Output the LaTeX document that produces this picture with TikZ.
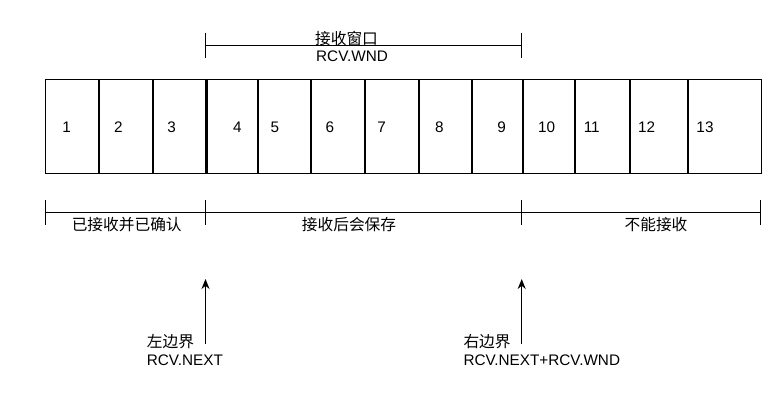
\documentclass[tikz,border=0pt]{standalone}
\usepackage{fontspec}
\setmainfont{Liberation Sans}
\newfontfamily\cjk{Noto Sans CJK SC}
\usetikzlibrary{arrows.meta}
\begin{document}
\begin{tikzpicture}[x=1pt,y=-1pt,
  cell/.style={draw, line width=0.9pt, minimum height=93.5pt, inner sep=0pt, anchor=north west},
  divider/.style={line width=2.2pt},
  num/.style={font=\fontsize{15.3}{17}\selectfont, inner sep=0pt, anchor=base},
  lbl/.style={font=\fontsize{15.3}{17}\selectfont, inner sep=0pt},
  clbl/.style={font=\fontsize{15.7}{17}\selectfont\cjk, inner sep=0pt},
  bracket/.style={line width=0.9pt},
  uparrow/.style={line width=1.3pt, -{Stealth[length=10pt,width=8pt]}}]
\useasboundingbox (0,0) rectangle (774,404);
% cells
\def\xs{{45,98.3,151.7,205.5,257.3,310,364.3,418.3,471,521.7,574.3,629,686.7,760.7}}
\foreach \i in {1,...,13}{
  \pgfmathsetmacro{\xa}{\xs[\i-1]}
  \pgfmathsetmacro{\xb}{\xs[\i]}
  \pgfmathsetmacro{\w}{\xb-\xa}
  \node[cell, minimum width=\w pt] (c\i) at (\xa,79.5) {};
}
\foreach \i in {1,...,12}{
  \draw[divider] (c\i.north east) -- (c\i.south east);
}
% numbers
\node[num] (n1) at (66.7,132.2) {1};
\node[num] (n2) at (118.3,132.2) {2};
\node[num] (n3) at (171.7,132.2) {3};
\node[num] (n4) at (237.3,132.2) {4};
\node[num] (n5) at (275,132.2) {5};
\node[num] (n6) at (330,132.2) {6};
\node[num] (n7) at (381.7,132.2) {7};
\node[num] (n8) at (439.3,132.2) {8};
\node[num] (n9) at (501.7,132.2) {9};
\node[num] (n10) at (546.7,132.2) {10};
\node[num] (n11) at (591.7,132.2) {11};
\node[num] (n12) at (646.7,132.2) {12};
\node[num] (n13) at (705,132.2) {13};
% top bracket
\coordinate (tl) at (205.5,45);
\coordinate (tr) at (521.7,45);
\draw[bracket] (tl) -- (tr);
\draw[bracket] (205.5,32.7) -- (205.5,58.3);
\draw[bracket] (521.7,32.7) -- (521.7,58.3);
\node[clbl] (wnd1) at (346.5,38.5) {接收窗口};
\node[lbl] (wnd2) at (352,56) {RCV.WND};
% bottom brackets
\coordinate (b0) at (45,212.3);
\coordinate (b1) at (205.5,212.3);
\coordinate (b2) at (521.7,212.3);
\coordinate (b3) at (760.7,212.3);
\draw[bracket] (b0) -- (b3);
\foreach \xx in {45,205.5,521.7,760.7}{
  \draw[bracket] (\xx,200) -- (\xx,225);
}
\node[clbl] (s1) at (126.7,225) {已接收并已确认};
\node[clbl] (s2) at (349,225) {接收后会保存};
\node[clbl] (s3) at (656,225) {不能接收};
% arrows
\coordinate (la) at (205.5,344);
\coordinate (lt) at (205.5,279);
\draw[uparrow] (la) -- (lt);
\coordinate (ra) at (521.7,344);
\coordinate (rt) at (521.7,279);
\draw[uparrow] (ra) -- (rt);
\node[clbl, anchor=west] (left1) at (146.7,342) {左边界};
\node[lbl, anchor=west] (left2) at (146.7,360) {RCV.NEXT};
\node[clbl, anchor=west] (right1) at (463.3,342) {右边界};
\node[lbl, anchor=west] (right2) at (463.3,360) {RCV.NEXT+RCV.WND};
\end{tikzpicture}
\end{document}
